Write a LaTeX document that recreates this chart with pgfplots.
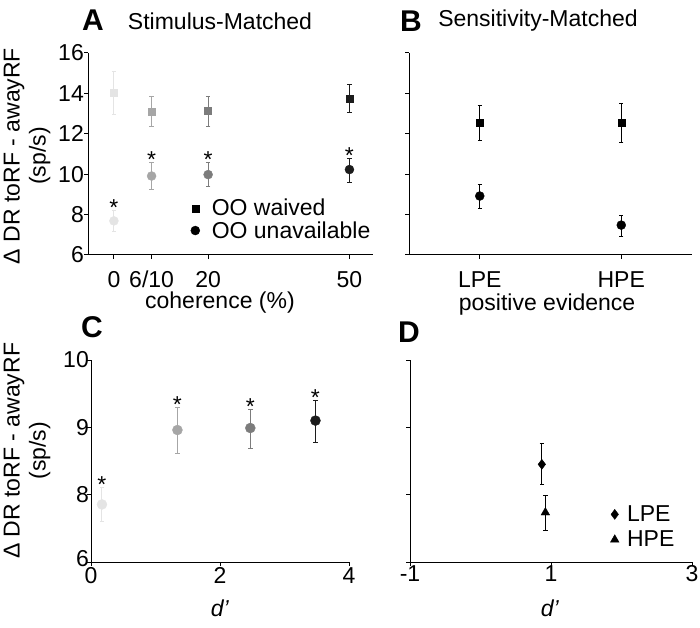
\documentclass[border=0pt]{standalone}
\usepackage{fontspec}
\setmainfont{Liberation Sans}
\usepackage{pgfplots}
\pgfplotsset{compat=1.18}

\definecolor{g0}{HTML}{E4E4E4}
\definecolor{g1}{HTML}{A6A6A6}
\definecolor{g2}{HTML}{7C7C7C}
\definecolor{g3}{HTML}{1C1C1C}

\newcommand{\fs}{\fontsize{23}{26}\selectfont}

\tikzset{star/.style={font=\fs, anchor=base, inner sep=0pt, yshift=-5pt}}

\pgfplotsset{
  panel/.style={
    scale only axis, anchor=south west, clip=false,
    axis x line*=bottom, axis y line*=left,
    axis line style={line width=1pt, black},
    tick align=outside, major tick length=4pt,
    tick style={line width=1pt, black},
    font=\fs,
    xticklabel style={font=\fs, inner sep=0pt, anchor=north},
    yticklabel style={font=\fs, inner sep=0pt, anchor=east},
    label style={font=\fs},
    legend style={draw=none, fill=none, inner sep=0pt, font=\fs},
    legend cell align=left,
    legend image code/.code={\draw[##1] plot coordinates {(0pt,0pt)};},
  },
  epoint/.style n args={3}{only marks, mark=#1, mark size=#2, color=#3,
    error bars/.cd, y dir=both, y explicit,
    error bar style={line width=1pt, color=#3},
    error mark options={rotate=90, mark size=2.2pt, line width=1pt, color=#3}},
}

\begin{document}
\begin{tikzpicture}
\path[use as bounding box] (0,0) rectangle (700pt,627pt);

% panel A
\begin{axis}[panel, at={(88pt,372pt)}, width=285pt, height=202pt,
  xmin=-5.5, xmax=55, ymin=6, ymax=16,
  xtick={0,8,20,50}, xticklabels={0,6/10,20,50},
  xticklabel style={yshift=-12pt},
  ytick={6,8,10,12,14,16}, yticklabels={6,8,10,12,14,16},
  xlabel={coherence (\%)}, xlabel style={at={(axis description cs:0.463,-0.233)}, anchor=center},
  ylabel={Δ DR toRF - awayRF\\(sp/s)},
  ylabel style={at={(axis description cs:-0.214,0.49)}, anchor=center, rotate=0, align=center},
  legend style={at={(axis description cs:0.36,0.176)}, anchor=west, row sep=0pt},
  legend columns=1,
  /tikz/every odd column/.append style={column sep=10pt}]
\addlegendimage{only marks, mark=square*, mark size=3.5pt, black}
\addlegendentry{OO waived}
\addlegendimage{only marks, mark=*, mark size=4.5pt, black}
\addlegendentry{OO unavailable}
\addplot[epoint={square*}{3.5pt}{g0}] coordinates {(0,14.03) += (0,1.04) -= (0,1.06)};
\addplot[epoint={square*}{3.5pt}{g1}] coordinates {(8,13.09) += (0,0.78) -= (0,0.75)};
\addplot[epoint={square*}{3.5pt}{g2}] coordinates {(20,13.14) += (0,0.73) -= (0,0.76)};
\addplot[epoint={square*}{3.5pt}{g3}] coordinates {(50,13.75) += (0,0.70) -= (0,0.71)};
\addplot[epoint={*}{4.5pt}{g0}] coordinates {(0,7.69) += (0,0.50) -= (0,0.52)};
\addplot[epoint={*}{4.5pt}{g1}] coordinates {(8,9.91) += (0,0.65) -= (0,0.67)};
\addplot[epoint={*}{4.5pt}{g2}] coordinates {(20,9.98) += (0,0.58) -= (0,0.61)};
\addplot[epoint={*}{4.5pt}{g3}] coordinates {(50,10.23) += (0,0.57) -= (0,0.65)};
\node[star] at (axis cs:0,8.19) {*};
\node[star] at (axis cs:8,10.56) {*};
\node[star] at (axis cs:20,10.56) {*};
\node[star] at (axis cs:50,10.80) {*};
\end{axis}

% panel B
\begin{axis}[panel, at={(409pt,372pt)}, width=283pt, height=202pt,
  xmin=-0.5, xmax=1.5, ymin=6, ymax=16,
  xtick={0,1}, xticklabels={LPE,HPE},
  xticklabel style={yshift=-12pt},
  ytick={6,8,10,12,14,16}, yticklabels={},
  xlabel={positive evidence}, xlabel style={at={(axis description cs:0.488,-0.244)}, anchor=center}]
\addplot[epoint={square*}{3.5pt}{black}] coordinates {(0,12.55) += (0,0.85) -= (0,0.88)};
\addplot[epoint={square*}{3.5pt}{black}] coordinates {(1,12.55) += (0,0.95) -= (0,0.99)};
\addplot[epoint={*}{4.5pt}{black}] coordinates {(0,8.92) += (0,0.58) -= (0,0.63)};
\addplot[epoint={*}{4.5pt}{black}] coordinates {(1,7.48) += (0,0.48) -= (0,0.55)};
\end{axis}

% panel C
\begin{axis}[panel, at={(91pt,65pt)}, width=258pt, height=202pt,
  xmin=0, xmax=4, ymin=7, ymax=10,
  xtick={0,2,4}, xticklabels={0,2,4},
  xticklabel style={yshift=-1pt},
  ytick={7,8,9,10}, yticklabels={\raisebox{-4pt}[0pt][0pt]{6},8,9,10},
  yticklabel style={xshift=2pt},
  xlabel={\textit{d’}}, xlabel style={at={(axis description cs:0.5,-0.228)}, anchor=center},
  ylabel={Δ DR toRF - awayRF\\(sp/s)},
  ylabel style={at={(axis description cs:-0.248,0.55)}, anchor=center, rotate=0, align=center}]
\addplot[epoint={*}{5pt}{g0}] coordinates {(0.17,7.855) += (0,0.255) -= (0,0.255)};
\addplot[epoint={*}{5pt}{g1}] coordinates {(1.34,8.96) += (0,0.33) -= (0,0.35)};
\addplot[epoint={*}{5pt}{g2}] coordinates {(2.47,8.99) += (0,0.28) -= (0,0.30)};
\addplot[epoint={*}{5pt}{g3}] coordinates {(3.48,9.10) += (0,0.30) -= (0,0.32)};
\node[star] at (axis cs:0.17,8.11) {*};
\node[star] at (axis cs:1.34,9.29) {*};
\node[star] at (axis cs:2.47,9.27) {*};
\node[star] at (axis cs:3.48,9.40) {*};
\end{axis}

% panel D
\begin{axis}[panel, at={(410pt,65pt)}, width=282pt, height=202pt,
  xmin=-1, xmax=3, ymin=7, ymax=10,
  xtick={-1,1,3}, xticklabels={-1,1,3},
  xticklabel style={yshift=1pt},
  ytick={7,8,9,10}, yticklabels={},
  xlabel={\textit{d’}}, xlabel style={at={(axis description cs:0.496,-0.228)}, anchor=center},
  legend style={at={(axis description cs:0.71,0.173)}, anchor=west, row sep=4pt},
  /tikz/every odd column/.append style={column sep=6pt}]
\addlegendimage{only marks, mark=diamond*, mark size=5pt, black}
\addlegendentry{LPE}
\addlegendimage{only marks, mark=triangle*, mark size=5pt, black}
\addlegendentry{HPE}
\addplot[epoint={diamond*}{5pt}{black}] coordinates {(0.87,8.45) += (0,0.305) -= (0,0.295)};
\addplot[epoint={triangle*}{5pt}{black}] coordinates {(0.92,7.735) += (0,0.25) -= (0,0.265)};
\end{axis}

\node[font=\fontsize{30}{32}\selectfont\bfseries] at (93pt,607pt) {A};
\node[font=\fs] at (220pt,606pt) {Stimulus-Matched};
\node[font=\fontsize{30}{32}\selectfont\bfseries] at (411pt,606pt) {B};
\node[font=\fs] at (538pt,606pt) {Sensitivity-Matched};
\node[font=\fontsize{30}{32}\selectfont\bfseries] at (92pt,300pt) {C};
\node[font=\fontsize{30}{32}\selectfont\bfseries] at (409pt,295pt) {D};
\end{tikzpicture}
\end{document}
